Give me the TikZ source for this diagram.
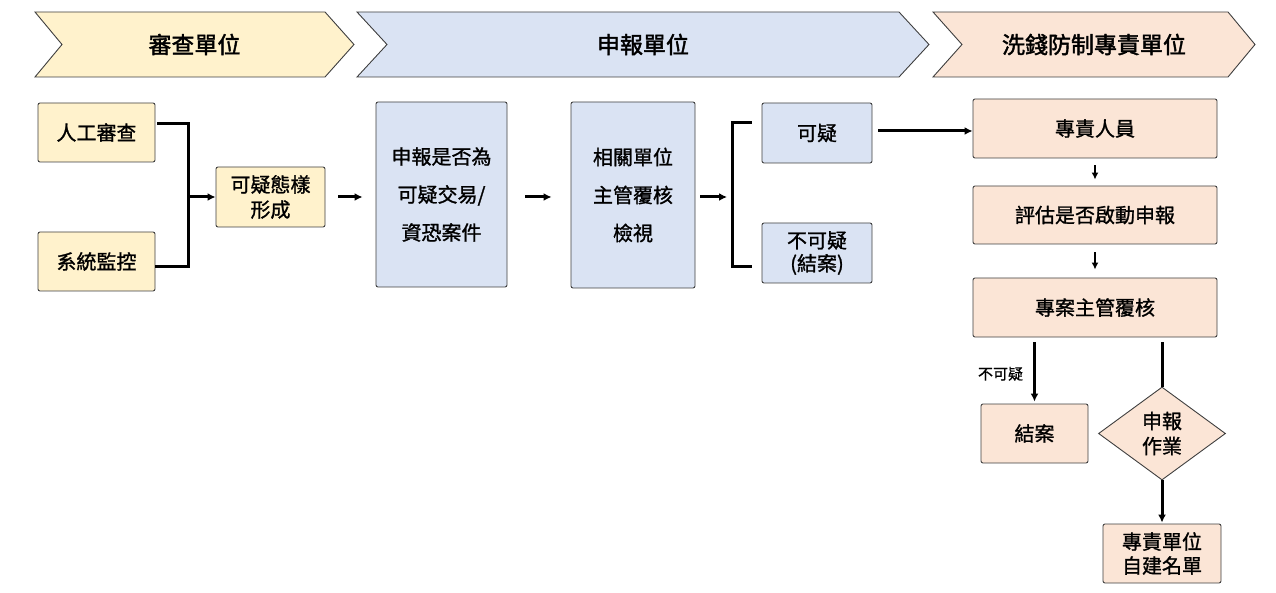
\documentclass[tikz,border=0pt]{standalone}
\usepackage{fontspec}
\setmainfont{Noto Sans CJK TC}[FakeBold=1.2]
\newfontfamily\hdrfont{Noto Sans CJK TC}[FakeBold=1.8]
\newfontfamily\lblfont{Noto Sans CJK TC}[FakeBold=0.8]
\usetikzlibrary{arrows.meta,shapes.geometric}

\definecolor{unitYellow}{HTML}{FFF2CC}
\definecolor{unitBlue}{HTML}{DAE3F3}
\definecolor{unitPeach}{HTML}{FBE5D6}
\definecolor{edgeGray}{HTML}{3F3F3F}

\begin{document}
\begin{tikzpicture}[x=1pt, y=-1pt,
    box/.style={draw=edgeGray, line width=0.9pt, rounded corners=2pt, align=center, inner sep=0pt,
      font=\fontsize{20}{25}\selectfont},
    ybox/.style={box, fill=unitYellow},
    bbox/.style={box, fill=unitBlue},
    pbox/.style={box, fill=unitPeach},
    size/.style 2 args={minimum width=#1, minimum height=#2},
    chev/.style={draw=edgeGray, line width=0.9pt},
    hdr/.style={font=\hdrfont\fontsize{23}{26}\selectfont},
    lbl/.style={font=\lblfont\fontsize{15}{17}\selectfont, inner sep=2pt},
    line/.style={line width=3pt},
    arr/.style={line, -{Latex[length=8pt,width=8pt]}},
    thinarr/.style={line width=2.2pt, -{Latex[length=7pt,width=7pt]}}]
  \useasboundingbox (0,0) rectangle (1276,593);

  % unit headers
  \filldraw[chev, fill=unitYellow] (35,12) -- (325,12) -- (354,44.5) -- (325,77) -- (35,77) -- (62,44.5) -- cycle;
  \filldraw[chev, fill=unitBlue] (357,12) -- (899,12) -- (929,44.5) -- (899,77) -- (357,77) -- (387,44.5) -- cycle;
  \filldraw[chev, fill=unitPeach] (933,12) -- (1228,12) -- (1255,44.5) -- (1228,77) -- (933,77) -- (962,44.5) -- cycle;
  \node[hdr] (hdrReview) at (194.5,44.5) {審查單位};
  \node[hdr] (hdrReport) at (643,44.5) {申報單位};
  \node[hdr] (hdrAml) at (1094,44.5) {洗錢防制專責單位};

  % review unit
  \node[ybox, size={117pt}{59pt}] (manual) at (96.5,132.5) {人工審查};
  \node[ybox, size={117pt}{59pt}] (system) at (96.5,261.5) {系統監控};
  \node[ybox, size={109pt}{60pt}] (pattern) at (270.5,197) {可疑態樣\\形成};
  \coordinate (join) at (188,197);

  % reporting unit
  \node[bbox, size={131pt}{185pt}, font=\fontsize{20}{38}\selectfont] (report) at (441.5,194.5) {申報是否為\\可疑交易/\\資恐案件};
  \node[bbox, size={124pt}{186pt}, font=\fontsize{20}{38}\selectfont] (mgr) at (633,195) {相關單位\\主管覆核\\檢視};
  \node[bbox, size={110pt}{60pt}] (susp) at (817,133) {可疑};
  \node[bbox, size={110pt}{60pt}, font=\fontsize{20}{23}\selectfont] (nosusp) at (817,253) {不可疑\\(結案)};
  \coordinate (fork) at (732,197);

  % AML unit
  \node[pbox, size={244pt}{59pt}] (staff) at (1095,128.5) {專責人員};
  \node[pbox, size={244pt}{58pt}] (assess) at (1095,215) {評估是否啟動申報};
  \node[pbox, size={244pt}{59pt}] (chief) at (1095,307.5) {專案主管覆核};
  \node[pbox, size={107pt}{59pt}] (close) at (1034.5,433.5) {結案};
  \node[diamond, draw=edgeGray, fill=unitPeach, line width=0.9pt, inner sep=0pt, align=center,
    minimum width=127pt, minimum height=93pt, font=\fontsize{20}{25}\selectfont] (dia) at (1162,433.5) {申報\\作業};
  \node[pbox, size={118pt}{59pt}, font=\fontsize{20}{24}\selectfont] (list) at (1162,553.5) {專責單位\\自建名單};

  % connectors
  \draw[line, shorten <=2pt] ([yshift=8.5pt]manual.east) -| (join) |- ([yshift=-5.5pt]system.east);
  \draw[arr] (join) -- (pattern.west);
  \draw[arr, shorten <=13pt, shorten >=13pt] (pattern.east) -- (pattern.east -| report.west);
  \draw[arr, shorten <=18pt, shorten >=19pt] (report.east |- pattern.east) -- (mgr.west |- pattern.east);
  \draw[arr, shorten <=5pt, shorten >=5pt] (mgr.east |- fork) -- (fork);
  \draw[line, shorten <=10pt, shorten >=10pt] ([yshift=10pt]susp.west) -| (fork) |- ([yshift=-14pt]nosusp.west);
  \draw[arr, shorten <=6pt] ([yshift=2pt]susp.east) -- ([yshift=2pt]susp.east -| staff.west);
  \draw[thinarr, shorten <=7pt, shorten >=6pt] (staff) -- (assess);
  \draw[thinarr, shorten <=8pt, shorten >=8pt] (assess) -- (chief);
  \draw[arr, shorten <=5pt, shorten >=2pt] (close.north |- chief.south) -- node[lbl, left=8pt, pos=0.55] {不可疑} (close.north);
  \draw[line, shorten <=5pt] (dia.north |- chief.south) -- (dia.north);
  \draw[arr, shorten >=1pt] (dia.south) -- (list.north);
\end{tikzpicture}
\end{document}
